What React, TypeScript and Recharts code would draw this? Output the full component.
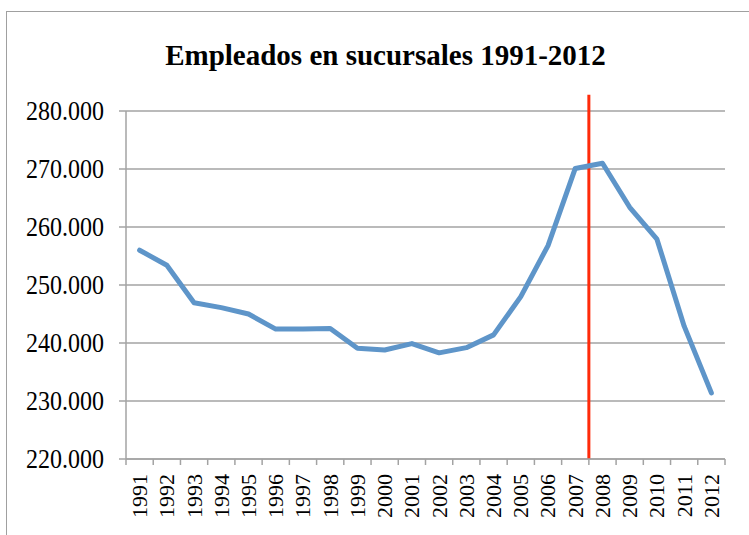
import { CartesianGrid, Line, LineChart, ReferenceLine, XAxis, YAxis } from "recharts";

const YEARS = [
  1991, 1992, 1993, 1994, 1995, 1996, 1997, 1998, 1999, 2000, 2001,
  2002, 2003, 2004, 2005, 2006, 2007, 2008, 2009, 2010, 2011, 2012,
];

const EMPLEADOS = [
  256000, 253400, 246950, 246100, 245000, 242400, 242400, 242500, 239100, 238800, 239900,
  238300, 239200, 241400, 248000, 256800, 270100, 271000, 263400, 257900, 242900, 231400,
];

const Y_TICKS = [220000, 230000, 240000, 250000, 260000, 270000, 280000];

const TITLE = "Empleados en sucursales 1991-2012";
const CRISIS_MARK = 2007.5;

const data = YEARS.map((year, i) => ({ year, value: EMPLEADOS[i] }));

// labels at the year, tick marks on the boundaries between years
const X_TICKS = YEARS.flatMap((y) => [y - 0.5, y]).concat([YEARS[YEARS.length - 1] + 0.5]);

const SERIF = "Liberation Serif";
const GRID = "#a3a3a3";

function fmt(v: number) {
  return `${Math.round(v / 1000)}.000`;
}

function YTick({ x, y, payload }: any) {
  const label = fmt(payload.value);
  return (
    <text
      x={x}
      y={y}
      dy="0.34em"
      textAnchor="end"
      fontSize={27}
      fill="#000"
      style={{ fontFamily: SERIF }}
      textLength={78}
      lengthAdjust="spacingAndGlyphs"
    >
      {label}
    </text>
  );
}

function XTick({ x, y, payload }: any) {
  const v = payload.value as number;
  if (!Number.isInteger(v)) {
    return <line x1={x} x2={x} y1={y - 15} y2={y - 9} stroke={GRID} strokeWidth={1.5} />;
  }
  return (
    <text
      x={x}
      y={y}
      dy="0.34em"
      textAnchor="end"
      transform={`rotate(-90, ${x}, ${y})`}
      fontSize={22}
      fill="#000"
      style={{ fontFamily: SERIF }}
    >
      {v}
    </text>
  );
}

export default function App() {
  return (
    <div
      style={{
        position: "absolute",
        left: 0,
        top: 0,
        width: 749,
        height: 535,
        overflow: "hidden",
        background: "#fff",
        fontFamily: SERIF,
      }}
    >
      <div
        style={{
          position: "absolute",
          left: 6,
          top: 11,
          width: 900,
          height: 700,
          borderLeft: "1.5px solid #a0a0a0",
          borderTop: "1.5px solid #a0a0a0",
        }}
      />
      <div
        style={{
          position: "absolute",
          left: 0,
          width: 771,
          top: 38,
          textAlign: "center",
          fontFamily: SERIF,
          fontWeight: "bold",
          fontSize: 29,
          lineHeight: "34px",
          color: "#000",
          whiteSpace: "nowrap",
        }}
      >
        {TITLE}
      </div>
      <div style={{ position: "absolute", left: 0, top: 0 }}>
        <LineChart
          width={749}
          height={535}
          data={data}
          margin={{ top: 111, right: 24, bottom: 0, left: 26 }}
          style={{ fontFamily: SERIF }}
        >
          <CartesianGrid vertical={false} stroke={GRID} strokeWidth={1.5} />
          <XAxis
            dataKey="year"
            type="number"
            domain={[1990.5, 2012.5]}
            ticks={X_TICKS}
            interval={0}
            tickLine={false}
            tickMargin={9}
            tick={<XTick />}
            axisLine={{ stroke: GRID, strokeWidth: 1.5 }}
            height={76}
          />
          <YAxis
            domain={[220000, 280000]}
            ticks={Y_TICKS}
            interval={0}
            tickSize={7}
            tickMargin={15}
            tickLine={{ stroke: GRID, strokeWidth: 1.5 }}
            axisLine={{ stroke: GRID, strokeWidth: 1.5 }}
            tick={<YTick />}
            width={100}
          />
          <ReferenceLine
            segment={[
              { x: CRISIS_MARK, y: 220000 },
              { x: CRISIS_MARK, y: 282800 },
            ]}
            ifOverflow="visible"
            stroke="#ff2a0a"
            strokeWidth={3}
          />
          <Line
            dataKey="value"
            stroke="#5e95c9"
            strokeWidth={5}
            dot={false}
            strokeLinejoin="round"
            strokeLinecap="round"
            isAnimationActive={false}
          />
        </LineChart>
      </div>
    </div>
  );
}
